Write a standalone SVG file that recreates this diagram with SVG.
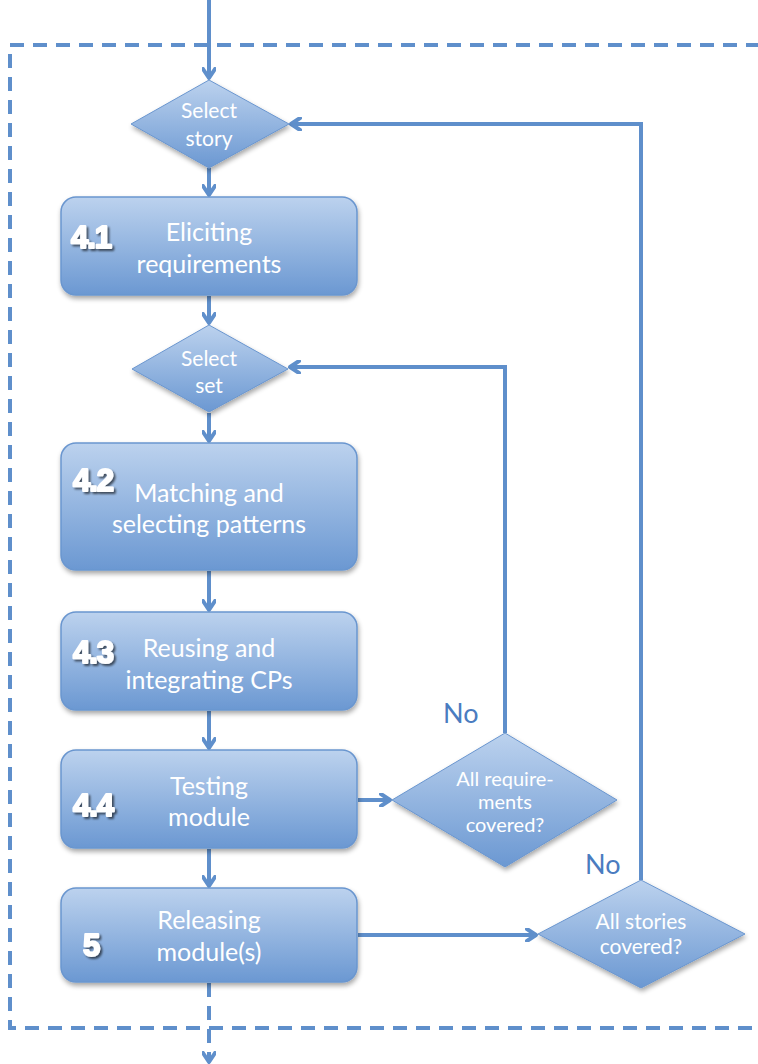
<svg xmlns="http://www.w3.org/2000/svg" width="758" height="1064" viewBox="0 0 758 1064">
<defs>
<linearGradient id="g" x1="0" y1="0" x2="0" y2="1">
<stop offset="0" stop-color="#bcd2ee"/>
<stop offset="1" stop-color="#6b98d2"/>
</linearGradient>
<filter id="sh" x="-10%" y="-10%" width="125%" height="130%">
<feGaussianBlur in="SourceAlpha" stdDeviation="2.5"/>
<feOffset dx="1" dy="3" result="b"/>
<feComponentTransfer><feFuncA type="linear" slope="0.35"/></feComponentTransfer>
<feMerge><feMergeNode/><feMergeNode in="SourceGraphic"/></feMerge>
</filter>
<filter id="ts" x="-20%" y="-20%" width="150%" height="160%">
<feGaussianBlur in="SourceAlpha" stdDeviation="1.2"/>
<feOffset dx="1.5" dy="2" result="b"/>
<feComponentTransfer><feFuncA type="linear" slope="0.6"/></feComponentTransfer>
<feMerge><feMergeNode/><feMergeNode in="SourceGraphic"/></feMerge>
</filter>
<marker id="ah" markerWidth="14" markerHeight="14" refX="11" refY="7" orient="auto" markerUnits="userSpaceOnUse">
<polyline points="2,1 11,7 2,13" fill="none" stroke="#5f8fcb" stroke-width="4" stroke-linecap="round" stroke-linejoin="round"/>
</marker>
</defs>
<style>
.box{fill:url(#g);stroke:#6a96cf;stroke-width:1.5;filter:url(#sh)}
.dia{fill:url(#g);stroke:#6a96cf;stroke-width:1;filter:url(#sh)}
.t{font-family:Lato,"Open Sans",sans-serif;fill:#ffffff;text-anchor:middle}
.bt{font-size:25px}
.dt{font-size:21px}
.st{font-size:20px}
.num{font-family:"Liberation Sans",Arial,sans-serif;font-weight:bold;font-size:31px;fill:#ffffff;stroke:#ffffff;stroke-width:2;stroke-linejoin:round;filter:url(#ts);letter-spacing:-1px}
.ln{fill:none;stroke:#5f8fcb;stroke-width:4}
.dash{fill:none;stroke:#5f8fcb;stroke-width:4;stroke-dasharray:14,9}
.no{font-family:Lato,"Open Sans",sans-serif;font-size:27px;fill:#4a7cc0}
</style>
<g id="boundary">
<path class="dash" d="M760,45 H10 V1028 H760"/>
</g>
<g id="connectors">
<line class="ln" x1="209" y1="0" x2="209" y2="78" marker-end="url(#ah)"/>
<line class="ln" x1="209" y1="168" x2="209" y2="195" marker-end="url(#ah)"/>
<line class="ln" x1="209" y1="296" x2="209" y2="323" marker-end="url(#ah)"/>
<line class="ln" x1="209" y1="413" x2="209" y2="441" marker-end="url(#ah)"/>
<line class="ln" x1="209" y1="571" x2="209" y2="610" marker-end="url(#ah)"/>
<line class="ln" x1="209" y1="711" x2="209" y2="748" marker-end="url(#ah)"/>
<line class="ln" x1="209" y1="849" x2="209" y2="886" marker-end="url(#ah)"/>
<line class="dash" x1="209" y1="983" x2="209" y2="1062" stroke-dasharray="8,4" marker-end="url(#ah)"/>
<line class="ln" x1="358" y1="800" x2="390" y2="800" marker-end="url(#ah)"/>
<line class="ln" x1="358" y1="935" x2="536" y2="935" marker-end="url(#ah)"/>
<polyline class="ln" points="505,733 505,367 290,367" marker-end="url(#ah)"/>
<polyline class="ln" points="641,880 641,124 291,124" marker-end="url(#ah)"/>
</g>
<g id="select-story">
<polygon class="dia" points="209,80 289,124 209,168 131,124"/>
<text class="t dt" x="209" y="118">Select</text>
<text class="t dt" x="209" y="146">story</text>
</g>
<g id="n41">
<rect class="box" x="61" y="197" width="296" height="98" rx="15"/>
<text class="num" x="71" y="248">4.1</text>
<text class="t bt" x="209" y="241">Eliciting</text>
<text class="t bt" x="209" y="273">requirements</text>
</g>
<g id="select-set">
<polygon class="dia" points="209,325 288,369 209,412 132,369"/>
<text class="t dt" x="209" y="366">Select</text>
<text class="t dt" x="209" y="393">set</text>
</g>
<g id="n42">
<rect class="box" x="61" y="443" width="296" height="127" rx="15"/>
<text class="num" x="73" y="491">4.2</text>
<text class="t bt" x="209" y="502">Matching and</text>
<text class="t bt" x="209" y="533">selecting patterns</text>
</g>
<g id="n43">
<rect class="box" x="61" y="612" width="296" height="98" rx="15"/>
<text class="num" x="73" y="663">4.3</text>
<text class="t bt" x="209" y="657">Reusing and</text>
<text class="t bt" x="209" y="689">integrating CPs</text>
</g>
<g id="n44">
<rect class="box" x="61" y="750" width="296" height="98" rx="15"/>
<text class="num" x="73" y="816">4.4</text>
<text class="t bt" x="209" y="795">Testing</text>
<text class="t bt" x="209" y="826">module</text>
</g>
<g id="n5">
<rect class="box" x="61" y="888" width="296" height="94" rx="15"/>
<text class="num" x="83" y="956">5</text>
<text class="t bt" x="209" y="929">Releasing</text>
<text class="t bt" x="209" y="961">module(s)</text>
</g>
<g id="all-req">
<polygon class="dia" points="505,733 617,800 505,867 392,800"/>
<text class="t st" x="505" y="786">All require-</text>
<text class="t st" x="505" y="809">ments</text>
<text class="t st" x="505" y="832">covered?</text>
<text class="no" x="443" y="723">No</text>
</g>
<g id="all-stories">
<polygon class="dia" points="641,880 745,934 641,988 538,934"/>
<text class="t dt" x="641" y="929">All stories</text>
<text class="t dt" x="641" y="954">covered?</text>
<text class="no" x="585" y="874">No</text>
</g>
</svg>
